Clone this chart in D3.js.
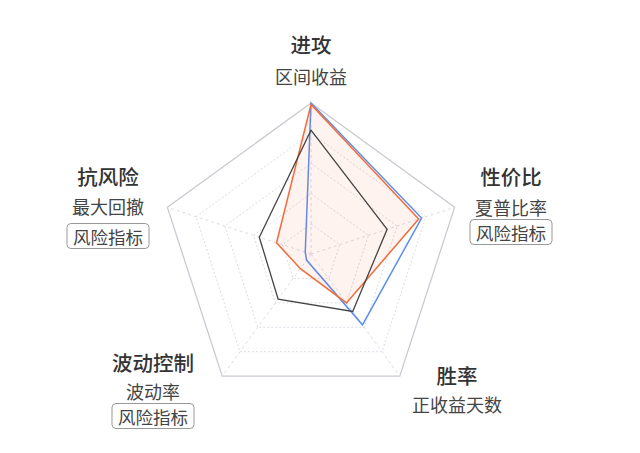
<!DOCTYPE html>
<html><head><meta charset="utf-8">
<script src="https://cdn.jsdelivr.net/npm/d3@7"></script>
<style>
html,body{margin:0;padding:0;background:#fff;}
svg{display:block;font-family:"Noto Sans CJK SC","Noto Sans",sans-serif;}
</style></head>
<body><svg id="c" width="640" height="453"></svg>
<script>
const axes = ["进攻","性价比","胜率","波动控制","抗风险"];
const subLabels = ["区间收益","夏普比率","正收益天数","波动率","最大回撤"];
const badges = [false,true,false,true,true];
const badgeText = "风险指标";
const seriesBlue = [100,77,58,5,4];
const seriesOrange = [99,75,40,12,24];
const seriesBlack = [82,53,47,37,36];
const levels = [20,40,60,80,100];

const svg = d3.select("#c");
const cx = 311, cy = 254, R = 151;
const r = d3.scaleLinear().domain([0,100]).range([0,R]);
const ang = i => -Math.PI/2 + i*2*Math.PI/axes.length;
const pt = (v,i) => [cx + r(v)*Math.cos(ang(i)), cy + r(v)*Math.sin(ang(i))];
const g = svg.append("g");

levels.forEach(l => {
  const pts = axes.map((a,i)=>pt(l,i));
  g.append("polygon").attr("points", pts.map(p=>p.join(",")).join(" "))
    .attr("fill","none")
    .attr("stroke", l===100 ? "#c9c9d1" : "#dcdce6")
    .attr("stroke-width", l===100 ? 1.3 : 1)
    .attr("stroke-dasharray", l===100 ? null : "2,2");
});
axes.forEach((a,i)=>{
  const p = pt(100,i);
  g.append("line").attr("x1",cx).attr("y1",cy).attr("x2",p[0]).attr("y2",p[1])
    .attr("stroke","#dcdce6").attr("stroke-dasharray","3,3");
});

const line = d3.lineRadial().angle((d,i)=>i*2*Math.PI/axes.length).radius(d=>r(d)).curve(d3.curveLinearClosed);
const sg = g.append("g").attr("transform",`translate(${cx},${cy})`);
sg.append("path").attr("d", line(seriesBlue)).attr("fill","none").attr("stroke","#5b8ef0").attr("stroke-width",1.5);
sg.append("path").attr("d", line(seriesOrange)).attr("fill","rgba(242,107,56,0.08)").attr("stroke","#f26b38").attr("stroke-width",1.5);
sg.append("path").attr("d", line(seriesBlack)).attr("fill","none").attr("stroke","#444").attr("stroke-width",1.3);

const labelPos = [
  {x:311,t:44,s:76,b:null},
  {x:511,t:176,s:207,b:232},
  {x:457,t:375,s:404,b:null},
  {x:153,t:362,s:391,b:416},
  {x:108,t:176,s:206,b:236}
];
axes.forEach((a,i)=>{
  const lp = labelPos[i];
  svg.append("text").attr("x",lp.x).attr("y",lp.t).attr("text-anchor","middle").attr("dominant-baseline","central")
    .attr("font-size",20.5).attr("font-weight",500).attr("fill","#333").text(a);
  svg.append("text").attr("x",lp.x).attr("y",lp.s).attr("text-anchor","middle").attr("dominant-baseline","central")
    .attr("font-size",18).attr("fill","#444").text(subLabels[i]);
  if (badges[i]) {
    const w = 82, h = 25;
    svg.append("rect").attr("x",lp.x-w/2).attr("y",lp.b-h/2).attr("width",w).attr("height",h).attr("rx",4)
      .attr("fill","#fff").attr("stroke","#999").attr("stroke-width",1);
    svg.append("text").attr("x",lp.x).attr("y",lp.b+0.5).attr("text-anchor","middle").attr("dominant-baseline","central")
      .attr("font-size",17.5).attr("fill","#444").text(badgeText);
  }
});
</script></body></html>
